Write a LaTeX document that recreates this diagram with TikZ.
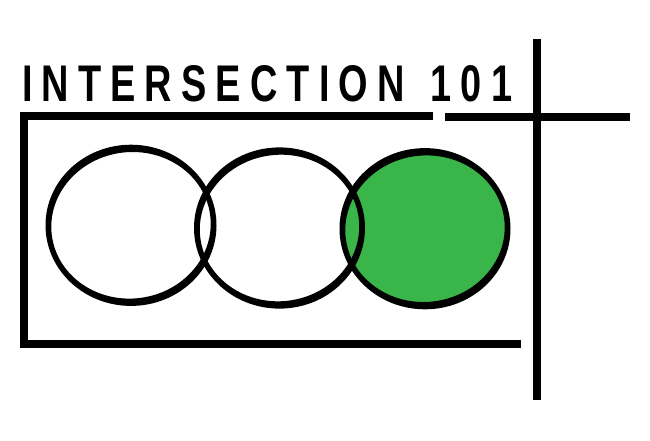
\documentclass[tikz,border=0pt]{standalone}
\usepackage{fontspec}
\usepackage{graphicx}
\newfontfamily\titlefont[LetterSpace=24]{Liberation Sans Bold}
\definecolor{vennGreen}{HTML}{39B54A}
\tikzset{x=1pt,y=-1pt,
  bar/.style={fill=black,draw=none},
  ring/.style={fill=black,draw=none,even odd rule}}
\newcommand{\ringat}[2]{%
  \fill[ring] (#1,#2) ellipse [x radius=85.5,y radius=80.6]
     (#1,#2) ellipse [x radius=79.8,y radius=73.2,rotate=7];}
\begin{document}
\begin{tikzpicture}
\useasboundingbox (0,0) rectangle (650,440);
\fill[white] (0,0) rectangle (650,440);
\fill[vennGreen] (425,228.7) ellipse [x radius=84,y radius=79];
\ringat{425}{228.7}
\ringat{131}{225.3}
\ringat{279.5}{228}
\fill[bar] (20,112) rectangle (433,120);
\fill[bar] (20,112) rectangle (28,348);
\fill[bar] (20,340) rectangle (521,348);
\fill[bar] (445,112.5) rectangle (629.5,121);
\fill[bar] (533,39) rectangle (541,400);
\node[inner sep=0pt,anchor=south west] (title) at (22,102)
  {\resizebox{490pt}{36pt}{\titlefont INTERSECTION\hspace{0.17em} 101}};
\end{tikzpicture}
\end{document}
